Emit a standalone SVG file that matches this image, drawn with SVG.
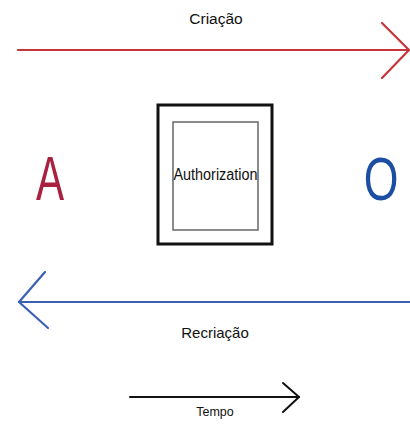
<svg xmlns="http://www.w3.org/2000/svg" width="410" height="425" viewBox="0 0 410 425">
<style>
.lbl{font-family:"Liberation Sans",Arial,sans-serif;fill:#111;text-anchor:middle}
.big{font-family:"Liberation Sans",Arial,sans-serif;font-size:62px;text-anchor:middle}
</style>
<rect width="410" height="425" fill="#fff"/>
<g id="connectors" fill="none" stroke-linecap="round" stroke-linejoin="round">
  <g id="criacao-arrow" stroke="#c4363a" stroke-width="2.2">
    <line x1="18" y1="50" x2="409" y2="50"/>
    <polyline points="382,23 409,50 382,78"/>
  </g>
  <g id="recriacao-arrow" stroke="#3a60b4" stroke-width="2.2">
    <line x1="19" y1="302" x2="410" y2="302"/>
    <polyline points="45,272 19,302 48,328"/>
  </g>
  <g id="tempo-arrow" stroke="#111" stroke-width="2">
    <line x1="130" y1="397" x2="299" y2="397"/>
    <polyline points="283,383 299,397 283,412"/>
  </g>
</g>
<text class="lbl" x="216" y="24" font-size="15.5">Criação</text>
<text class="lbl" x="215" y="338" font-size="15">Recriação</text>
<text class="lbl" x="215" y="416" font-size="12.5">Tempo</text>
<g id="A">
  <text class="big" fill="#a8223f" transform="translate(50,200) scale(0.68,1)">A</text>
</g>
<g id="O">
  <text class="big" fill="#1c4fa3" transform="translate(381,200) scale(0.72,1)">O</text>
</g>
<g id="authorization">
  <rect x="158" y="105" width="114" height="139" fill="#fff" stroke="#111" stroke-width="3"/>
  <rect x="173" y="122" width="85" height="108" fill="#fff" stroke="#666" stroke-width="1.5"/>
  <text class="lbl" x="215.5" y="180" font-size="16" textLength="84" lengthAdjust="spacingAndGlyphs">Authorization</text>
</g>
</svg>
